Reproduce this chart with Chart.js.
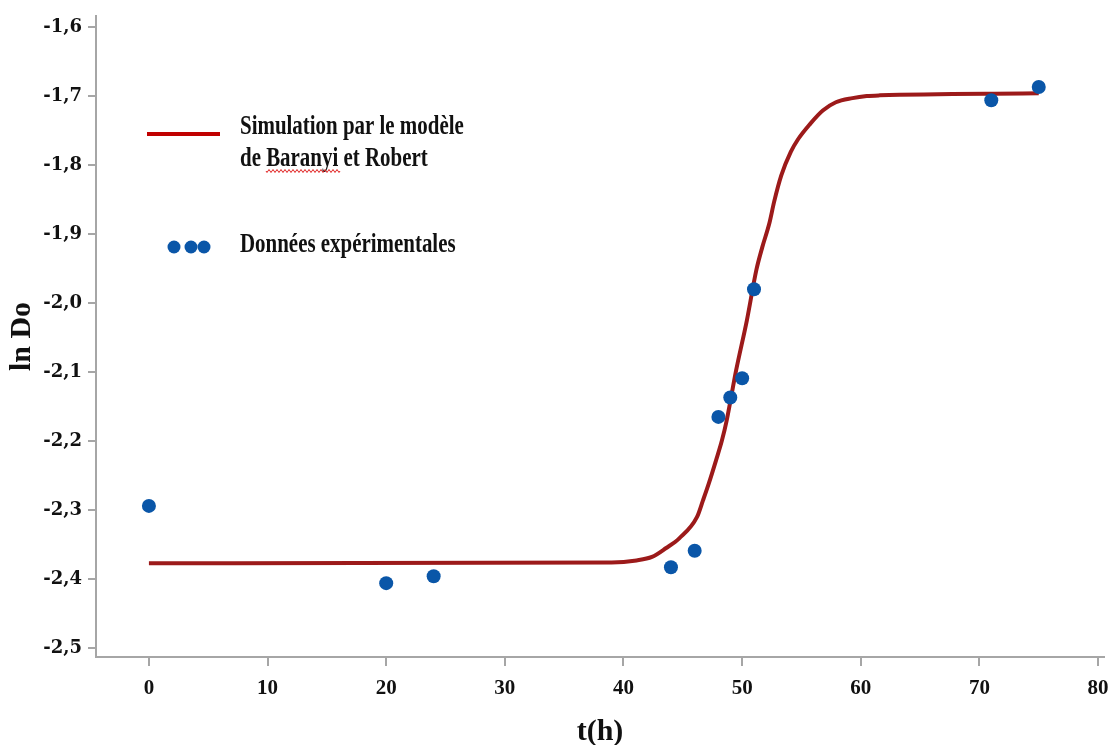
<!DOCTYPE html>
<html>
<head>
<meta charset="utf-8">
<script src="https://cdn.jsdelivr.net/npm/chart.js@4.4.1/dist/chart.umd.min.js"></script>
<style>
  body { margin: 0; background: #fff; }
  #box { width: 1111px; height: 745px; position: relative; }
</style>
</head>
<body>
<div id="box"><canvas id="graphe"></canvas></div>
<script>
// données expérimentales (t en h, ln Do)
const tExp = [0, 20, 24, 44, 46, 48, 49, 50, 51, 71, 75];
const lnDoExp = [-2.294, -2.406, -2.396, -2.383, -2.359, -2.165, -2.137, -2.109, -1.980, -1.706, -1.687];

// courbe simulée (modèle de Baranyi et Robert)
const tSim = [0, 39, 41.1, 42.4, 43.6, 44.7, 46.2, 46.7, 47.2, 47.8, 48.3, 48.7, 49.5, 50.4, 51.2, 51.7, 52.3, 52.7, 53.3, 54.1, 54.7, 55.7, 56.8, 57.9, 59.3, 60.5, 61.6, 75];
const lnDoSim = [-2.377, -2.376, -2.373, -2.368, -2.355, -2.341, -2.310, -2.286, -2.261, -2.228, -2.199, -2.170, -2.097, -2.025, -1.952, -1.919, -1.884, -1.853, -1.815, -1.781, -1.763, -1.741, -1.721, -1.709, -1.703, -1.700, -1.699, -1.696];

const xTicks = [0, 10, 20, 30, 40, 50, 60, 70, 80];
const yTicks = [-2.5, -2.4, -2.3, -2.2, -2.1, -2.0, -1.9, -1.8, -1.7, -1.6];

const labelSim = ["Simulation par le modèle", "de Baranyi et Robert"];
const labelExp = "Données expérimentales";

const bleu = '#0a56a8';
const rouge = '#9c1a1a';
const gris = '#a6a6a6';

// legende dessinee a la main (comme la zone de texte de l'original)
const legendePlugin = {
    id: 'legende',
    afterDraw(chart) {
        const ctx = chart.ctx;
        ctx.save();
        ctx.strokeStyle = '#c00000';
        ctx.lineWidth = 4;
        ctx.beginPath();
        ctx.moveTo(147, 134);
        ctx.lineTo(220, 134);
        ctx.stroke();

        ctx.fillStyle = '#111';
        ctx.font = 'bold 27px "Liberation Serif"';
        ctx.textBaseline = 'alphabetic';
        const sx = 0.775;
        const ecrire = (txt, x, y) => {
            ctx.save();
            ctx.translate(x, y);
            ctx.scale(sx, 1);
            ctx.fillText(txt, 0, 0);
            ctx.restore();
        };
        ecrire(labelSim[0], 240, 134);
        ecrire(labelSim[1], 240, 166);
        ecrire(labelExp, 240, 252);

        // soulignement ondule sous "Baranyi"
        ctx.strokeStyle = '#e02020';
        ctx.lineWidth = 1;
        ctx.beginPath();
        for (let x = 266; x <= 340; x += 1) {
            const y = 171 + 1.5 * Math.sin((x - 266) * Math.PI / 2);
            if (x === 266) ctx.moveTo(x, y); else ctx.lineTo(x, y);
        }
        ctx.stroke();

        ctx.fillStyle = bleu;
        [174, 191, 204].forEach(cx => {
            ctx.beginPath();
            ctx.arc(cx, 247, 6.5, 0, Math.PI * 2);
            ctx.fill();
        });
        ctx.restore();
    }
};

const formatVirgule = v => Number(v).toFixed(1).replace('.', ',');

new Chart(document.getElementById('graphe'), {
    type: 'scatter',
    data: {
        datasets: [{
            label: labelExp,
            data: tExp.map((t, i) => ({ x: t, y: lnDoExp[i] })),
            pointRadius: 7,
            pointBackgroundColor: bleu,
            pointBorderWidth: 0,
            showLine: false,
            order: 0
        }, {
            label: labelSim.join(' '),
            data: tSim.map((t, i) => ({ x: t, y: lnDoSim[i] })),
            showLine: true,
            pointRadius: 0,
            borderColor: rouge,
            borderWidth: 4,
            cubicInterpolationMode: 'monotone',
            order: 1
        }]
    },
    options: {
        responsive: true,
        maintainAspectRatio: false,
        animation: false,
        layout: { padding: { top: 16, right: 6, left: 0, bottom: 0 } },
        plugins: {
            legend: { display: false },
            tooltip: { enabled: false }
        },
        scales: {
            x: {
                type: 'linear',
                min: -4.46,
                max: 80.5,
                afterBuildTicks: s => { s.ticks = xTicks.map(v => ({ value: v })); },
                afterFit: s => { s.height = 88; s.paddingLeft = 0; s.paddingRight = 0; },
                border: { color: gris, width: 2 },
                grid: { drawOnChartArea: false, drawTicks: true, tickLength: 9, color: gris, lineWidth: 2 },
                ticks: {
                    color: '#111',
                    padding: 10,
                    font: { family: 'Liberation Serif', weight: 'bold', size: 21 },
                    maxRotation: 0
                },
                title: {
                    display: true,
                    text: 't(h)',
                    color: '#111',
                    font: { family: 'Liberation Serif', weight: 'bold', size: 30, lineHeight: 0.8 },
                    padding: { top: 0, bottom: 1 }
                }
            },
            y: {
                type: 'linear',
                min: -2.513,
                max: -1.584,
                afterBuildTicks: s => { s.ticks = yTicks.map(v => ({ value: v })); },
                afterFit: s => { s.width = 96; s.paddingTop = 0; s.paddingBottom = 0; },
                border: { color: gris, width: 2 },
                grid: { drawOnChartArea: false, drawTicks: true, tickLength: 8, color: gris, lineWidth: 2 },
                ticks: {
                    color: '#111',
                    padding: 6,
                    font: { family: 'DejaVu Serif', weight: 'bold', size: 18 },
                    callback: v => formatVirgule(v)
                },
                title: {
                    display: true,
                    text: 'ln Do',
                    color: '#111',
                    font: { family: 'Liberation Serif', weight: 'bold', size: 30 },
                    padding: { top: 4, bottom: 0 }
                }
            }
        }
    },
    plugins: [legendePlugin]
});
</script>
</body>
</html>
